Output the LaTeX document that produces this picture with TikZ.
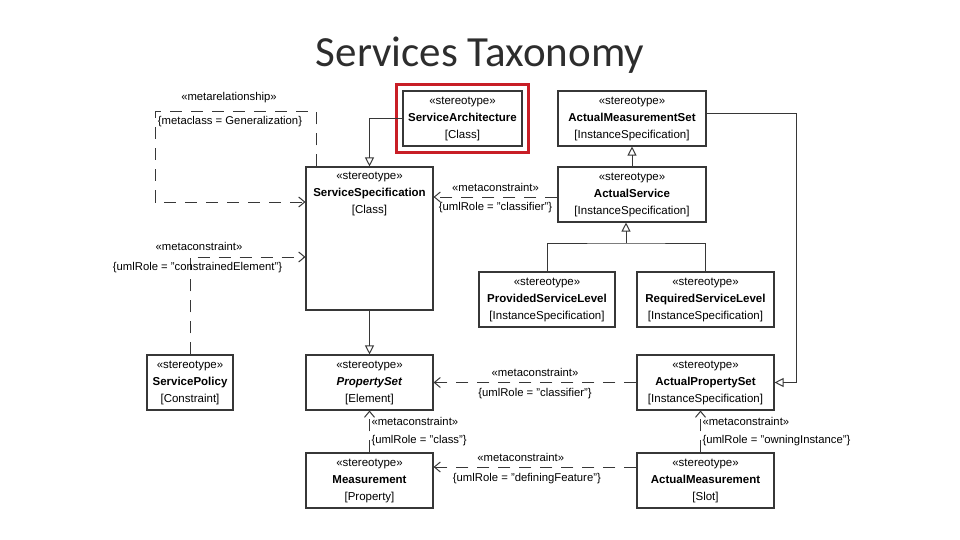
\documentclass[tikz,border=0pt]{standalone}
\usepackage{fontspec}
\setmainfont{Liberation Sans}
\newfontfamily\titlefont{Carlito}
\usetikzlibrary{arrows.meta, positioning, fit}
\definecolor{umlline}{RGB}{55,55,55}
\definecolor{myframe}{RGB}{200,30,38}
\definecolor{mytitle}{RGB}{45,45,45}
\tikzset{
  stereo/.style={rectangle, draw=umlline, fill=white, align=center,
    line width=1.1pt, inner sep=0pt, font=\fontsize{11.5}{17}\selectfont},
  redframe/.style={rectangle, draw=myframe, line width=3.5pt, inner sep=6pt},
  lbl/.style={font=\fontsize{11.3}{13}\selectfont, inner sep=1.5pt, color=black},
  gen/.style={-{Triangle[open, length=9pt, width=9pt]}, line width=1pt, color=umlline},
  dep/.style={-{Straight Barb[length=6pt, width=10pt]}, line width=1pt, color=umlline,
    dash pattern=on 12pt off 9pt},
  line/.style={line width=1pt, color=umlline}
}

\begin{document}
\begin{tikzpicture}[x=1pt, y=-1pt]
  \useasboundingbox (0,0) rectangle (960,540);

  \node[font=\titlefont\fontsize{43}{43}\selectfont, color=mytitle, anchor=base] (title) at (480,67) {Services Taxonomy};

  % stereotype boxes
  \node[stereo, minimum width=119, minimum height=55] (sarch) at (462.5,118.5) {«stereotype»\\\textbf{ServiceArchitecture}\\{[Class]}};
  \node[stereo, minimum width=148, minimum height=55] (amset) at (632,118.5) {«stereotype»\\\textbf{ActualMeasurementSet}\\{[InstanceSpecification]}};
  \node[stereo, minimum width=127, minimum height=143,
    label={[font=\fontsize{11.5}{17}\selectfont, align=center, anchor=center, yshift=44.5pt]center:{«stereotype»\\\textbf{ServiceSpecification}\\{[Class]}}}] (sspec) at (369.5,238.5) {};
  \node[stereo, minimum width=148, minimum height=55] (aserv) at (632,194.5) {«stereotype»\\\textbf{ActualService}\\{[InstanceSpecification]}};
  \node[stereo, minimum width=136, minimum height=55] (psl) at (547,299.5) {«stereotype»\\\textbf{ProvidedServiceLevel}\\{[InstanceSpecification]}};
  \node[stereo, minimum width=137, minimum height=55] (rsl) at (705.5,299.5) {«stereotype»\\\textbf{RequiredServiceLevel}\\{[InstanceSpecification]}};
  \node[stereo, minimum width=86, minimum height=55] (spol) at (190,382.5) {«stereotype»\\\textbf{ServicePolicy}\\{[Constraint]}};
  \node[stereo, minimum width=127, minimum height=55] (pset) at (369.5,382.5) {«stereotype»\\\textbf{\textit{PropertySet}}\\{[Element]}};
  \node[stereo, minimum width=137, minimum height=55] (apset) at (705.5,382.5) {«stereotype»\\\textbf{ActualPropertySet}\\{[InstanceSpecification]}};
  \node[stereo, minimum width=127, minimum height=55] (meas) at (369.5,480.5) {«stereotype»\\\textbf{Measurement}\\{[Property]}};
  \node[stereo, minimum width=137, minimum height=55] (ameas) at (705.5,480.5) {«stereotype»\\\textbf{ActualMeasurement}\\{[Slot]}};

  \node[redframe, fit=(sarch)] (sarchframe) {};

  % generalizations
  \draw[gen] (sarch.west) -| (sspec.north);
  \draw[gen] (aserv) -- (amset);
  \draw[gen] (sspec) -- (pset);
  \coordinate (slfork) at (626,243);
  \draw[line] (psl.north) |- (slfork) -| (rsl.north);
  \draw[gen] (slfork) -- (slfork |- aserv.south);
  \draw[gen] ([yshift=5pt]amset.east) -- ++(90,0) |- (apset.east);

  % metarelationship
  \coordinate (mrtop) at (155,112);
  \coordinate (mrbot) at (155,202);
  \draw[dep] ([xshift=11pt]sspec.north west) |- (mrtop) -- (mrbot) -- (mrbot -| sspec.west);
  \node[lbl] (mrname) at (229,98) {«metarelationship»};
  \node[lbl] (mrclass) at (230,122) {\{metaclass = Generalization\}};

  % metaconstraints
  \draw[dep] (spol.north) |- ([yshift=-18.5pt]sspec.west);
  \node[lbl] (spolname) at (199,246) {«metaconstraint»};
  \node[lbl] (spolrole) at (197.5,268) {\{umlRole = "constrainedElement"\}};

  \draw[dep] ([yshift=-2.5pt]aserv.west) -- node[lbl, yshift=10pt] {«metaconstraint»}
    node[lbl, yshift=-11pt] {\{umlRole = "classifier"\}} ([yshift=-2.5pt]aserv.west -| sspec.east);
  \draw[dep] (apset.west) -- node[lbl, yshift=10pt] {«metaconstraint»}
    node[lbl, yshift=-11pt] {\{umlRole = "classifier"\}} (apset.west -| pset.east);
  \draw[dep] ([yshift=13.5pt]ameas.west) -- node[lbl, yshift=9.5pt, pos=0.57] {«metaconstraint»}
    node[lbl, yshift=-12pt, pos=0.54] {\{umlRole = "definingFeature"\}} ([yshift=13.5pt]ameas.west -| meas.east);
  \draw[dep] (meas.north) -- node[lbl, right, pos=0.74] {«metaconstraint»}
    node[lbl, right, pos=0.28] {\{umlRole = "class"\}} (pset.south);
  \draw[dep] ([xshift=-5pt]ameas.north) -- node[lbl, right, pos=0.74] {«metaconstraint»}
    node[lbl, right, pos=0.28] {\{umlRole = "owningInstance"\}} ([xshift=-5pt]apset.south);
\end{tikzpicture}
\end{document}
